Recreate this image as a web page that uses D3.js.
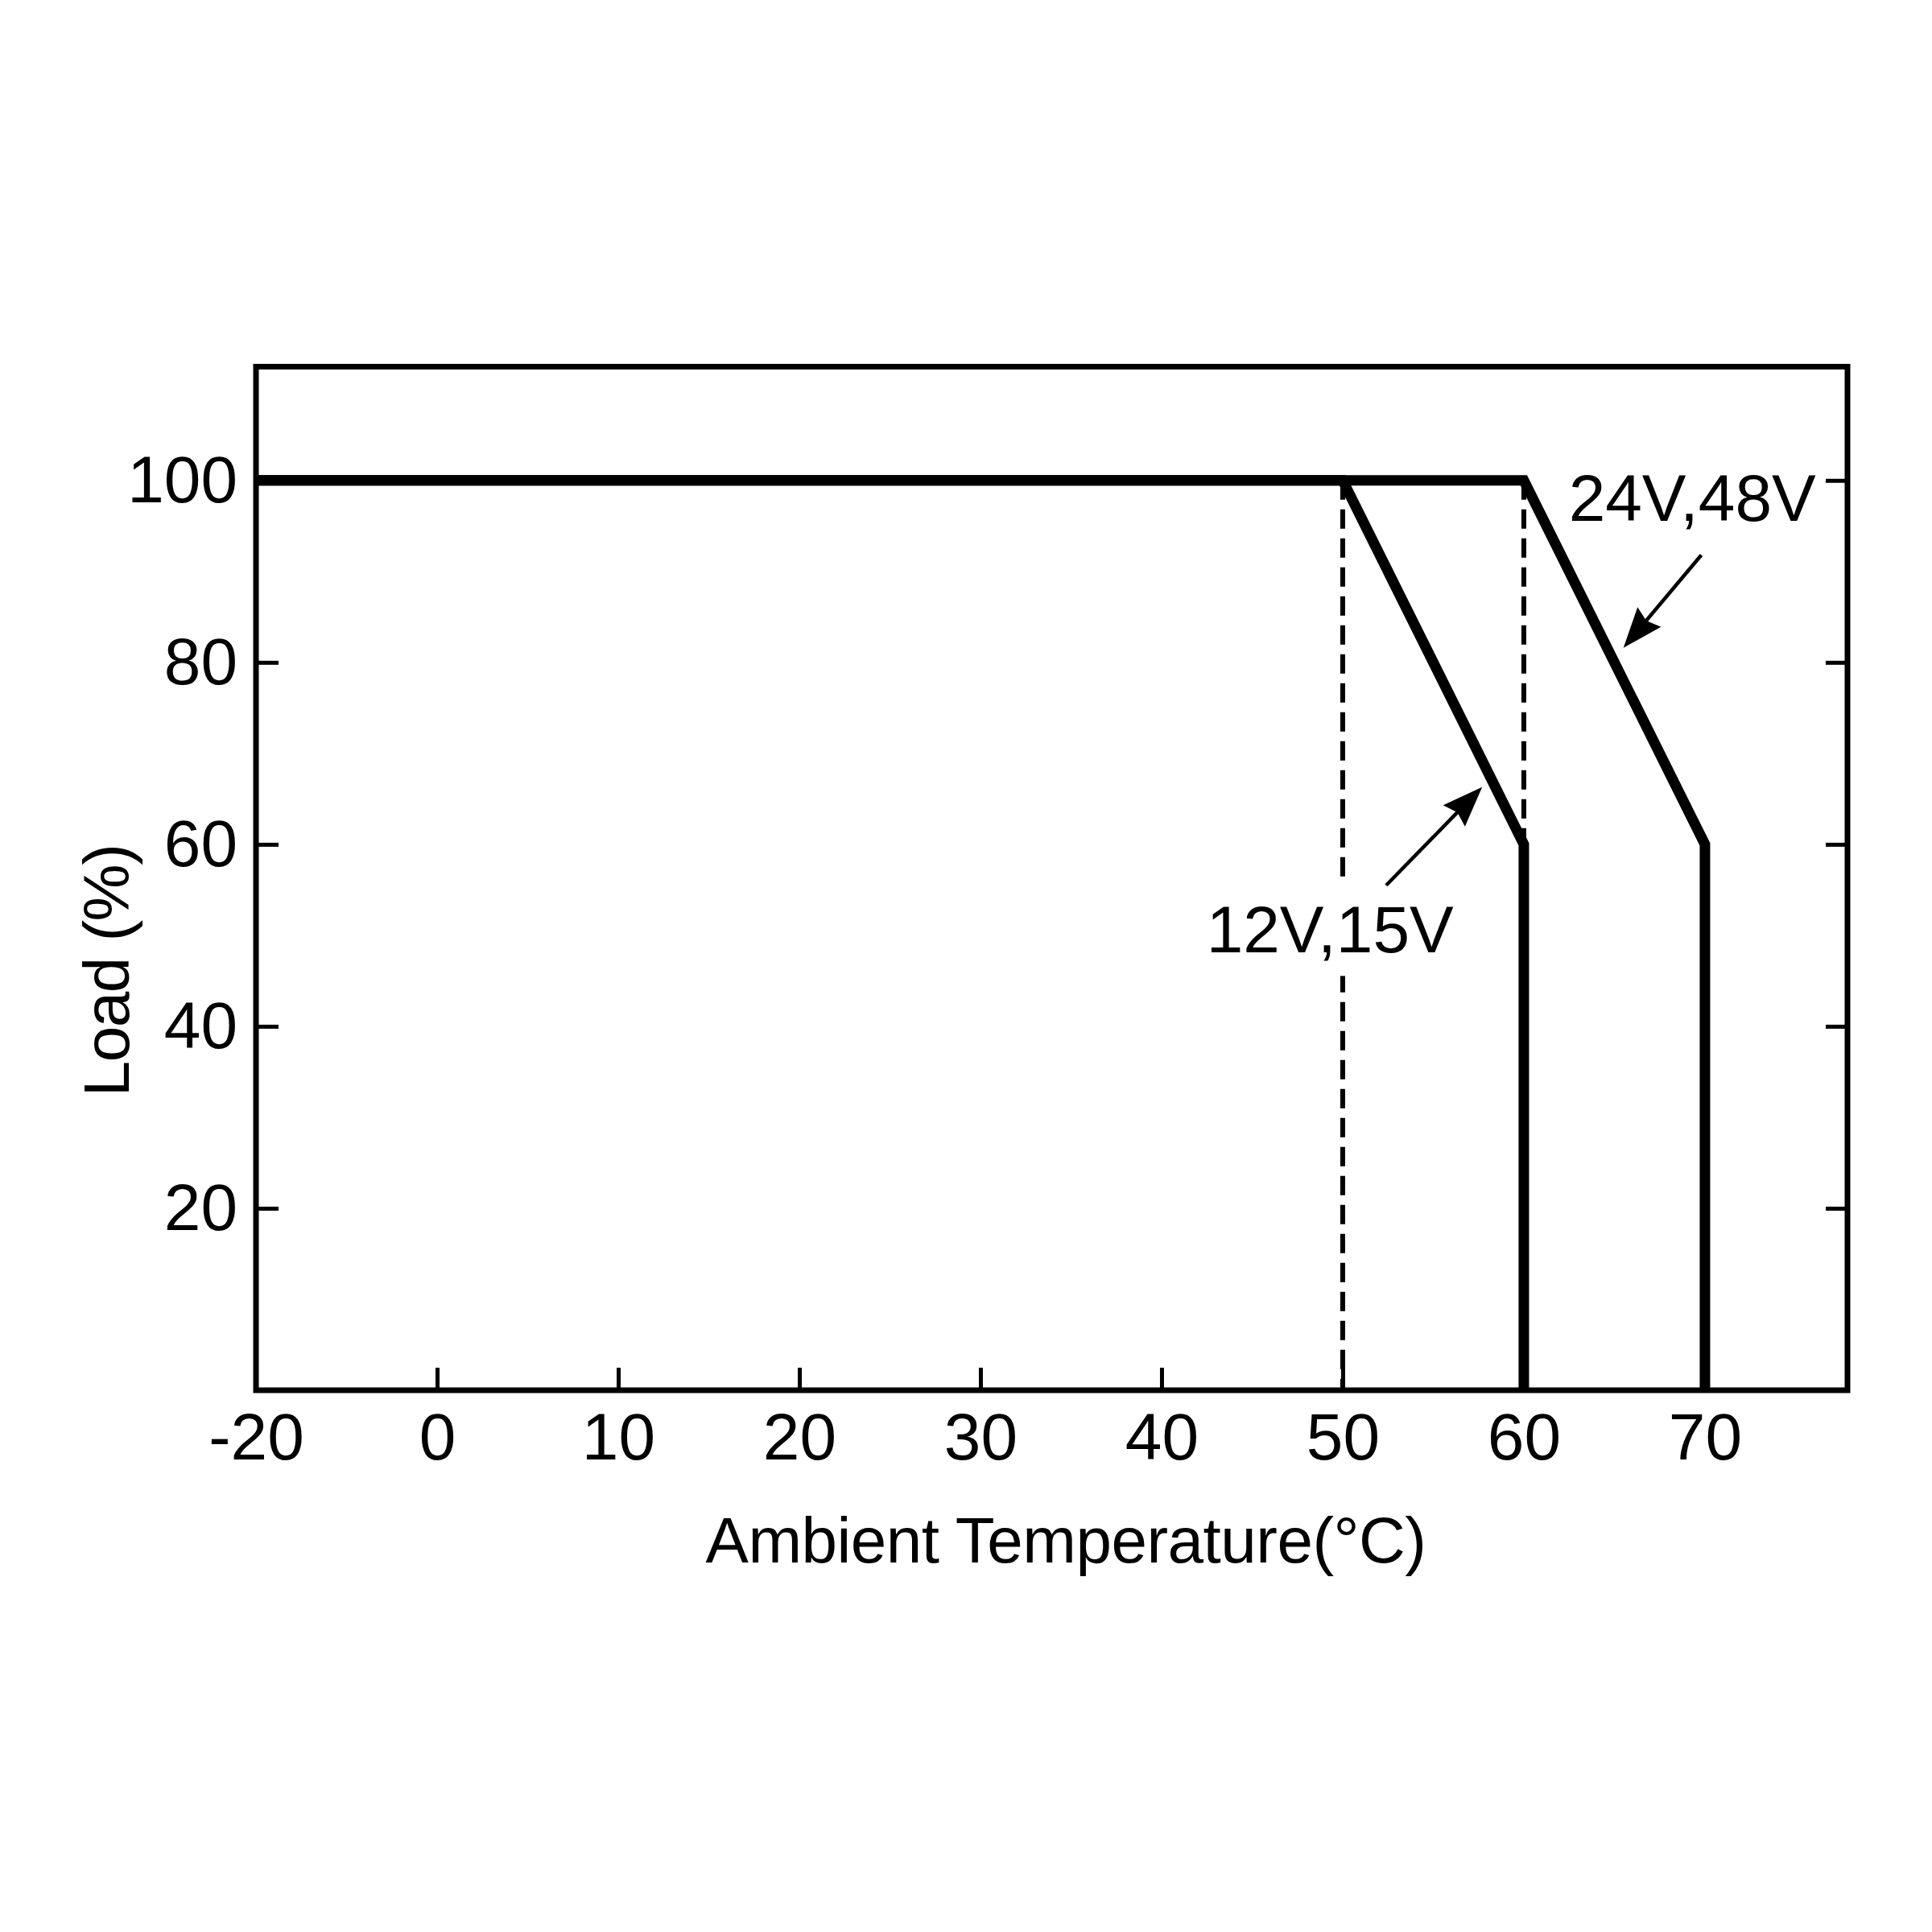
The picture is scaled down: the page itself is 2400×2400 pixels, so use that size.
<!DOCTYPE html>
<html>
<head>
<meta charset="utf-8">
<script src="https://cdn.jsdelivr.net/npm/d3@7"></script>
<style>
  body { margin: 0; background: #ffffff; }
  text { font-family: "Liberation Sans", Arial, sans-serif; fill: #000; }
</style>
</head>
<body>
<script>
// derating curves
const xTicks = [-20, 0, 10, 20, 30, 40, 50, 60, 70];
const yTicks = [20, 40, 60, 80, 100];
const temp12 = [-20, 50, 60, 60];
const load12 = [100, 100, 60, 0];
const temp24 = [-20, 60, 70, 70];
const load24 = [100, 100, 60, 0];
const dashTemps = [50, 60];

// annotations in data units: [text x, text y, arrow tail x, tail y, tip x, tip y]
const labels = ["12V,15V", "24V,48V"];
const labelPos = [[49.3, 48.1, 52.4, 55.5, 57.7, 66.3], [69.3, 95.6, 69.8, 91.8, 65.5, 81.6]];

const width = 2400, height = 2400;
const margin = { left: 318, right: 105, top: 455.5, bottom: 673 };
const w = width - margin.left - margin.right;
const h = height - margin.top - margin.bottom;

const svg = d3.select("body").append("svg")
    .attr("width", width)
    .attr("height", height);

const g = svg.append("g").attr("transform", `translate(${margin.left},${margin.top})`);

// the -20 label sits one step left of 0, so the x scale is piecewise
const xStep = w / 8.787;
const x = d3.scaleLinear().domain([-20, 0, 78]).range([0, xStep, xStep + 7.8 * xStep]);
const y = d3.scaleLinear().domain([0, 112.5]).range([h, 0]);

const fontSize = 82;

// axes with inward ticks
const xAxis = g.append("g").attr("transform", `translate(0,${h})`)
    .call(d3.axisBottom(x).tickValues(xTicks).tickSize(-28).tickPadding(28).tickFormat(d => String(d)));
const yAxis = g.append("g")
    .call(d3.axisLeft(y).tickValues(yTicks).tickSize(-28).tickPadding(23).tickFormat(d => String(d)));
const yAxisR = g.append("g").attr("transform", `translate(${w},0)`)
    .call(d3.axisRight(y).tickValues(yTicks).tickSize(-27).tickFormat(""));

[xAxis, yAxis, yAxisR].forEach(a => {
    a.select(".domain").remove();
    a.selectAll(".tick line").attr("stroke", "#000").attr("stroke-width", 5);
    a.selectAll(".tick text").style("font-size", fontSize + "px").attr("fill", "#000");
});

// dashed guides
g.selectAll(".guide")
    .data(dashTemps)
    .enter().append("line")
    .attr("class", "guide")
    .attr("x1", d => x(d)).attr("x2", d => x(d))
    .attr("y1", y(100)).attr("y2", y(0))
    .attr("stroke", "#000")
    .attr("stroke-width", 6)
    .attr("stroke-dasharray", "24,12");

const line = d3.line().x(d => x(d[0])).y(d => y(d[1]));

[[temp12, load12], [temp24, load24]].forEach(([t, l]) => {
    g.append("path")
        .datum(t.map((v, i) => [v, l[i]]))
        .attr("d", line)
        .attr("fill", "none")
        .attr("stroke", "#000")
        .attr("stroke-width", 13)
        .attr("stroke-linejoin", "miter");
});

// frame
g.append("rect")
    .attr("x", 0).attr("y", 0)
    .attr("width", w).attr("height", h)
    .attr("fill", "none")
    .attr("stroke", "#000")
    .attr("stroke-width", 7);

// annotation labels and arrows
labels.forEach((txt, i) => {
    const p = labelPos[i];
    const bg = g.append("rect").attr("fill", "#fff");
    const t = g.append("text")
        .attr("x", x(p[0])).attr("y", y(p[1]))
        .attr("text-anchor", "middle")
        .style("font-size", fontSize + "px")
        .text(txt);
    const bb = t.node().getBBox();
    bg.attr("x", bb.x).attr("y", bb.y - 12)
        .attr("width", bb.width).attr("height", bb.height + 24);

    const x1 = x(p[2]), y1 = y(p[3]), x2 = x(p[4]), y2 = y(p[5]);
    const ang = Math.atan2(y2 - y1, x2 - x1);
    const headLen = 50, headW = 19, notch = 6;
    const bx = x2 - headLen * Math.cos(ang), by = y2 - headLen * Math.sin(ang);
    const nx = -Math.sin(ang), ny = Math.cos(ang);
    const cx = x2 - (headLen - notch) * Math.cos(ang), cy = y2 - (headLen - notch) * Math.sin(ang);
    g.append("line")
        .attr("x1", x1).attr("y1", y1)
        .attr("x2", cx).attr("y2", cy)
        .attr("stroke", "#000")
        .attr("stroke-width", 4.5);
    g.append("path")
        .attr("d", `M${x2},${y2}L${bx + headW * nx},${by + headW * ny}L${cx},${cy}L${bx - headW * nx},${by - headW * ny}Z`)
        .attr("fill", "#000");
});

// axis titles
svg.append("text")
    .attr("x", 1324).attr("y", 1941)
    .attr("text-anchor", "middle")
    .style("font-size", "80px")
    .style("letter-spacing", "-0.5px")
    .text("Ambient Temperature(°C)");

svg.append("text")
    .attr("transform", "translate(160,1206) rotate(-90)")
    .attr("text-anchor", "middle")
    .style("font-size", "80px")
    .style("letter-spacing", "-1.5px")
    .text("Load (%)");
</script>
</body>
</html>
